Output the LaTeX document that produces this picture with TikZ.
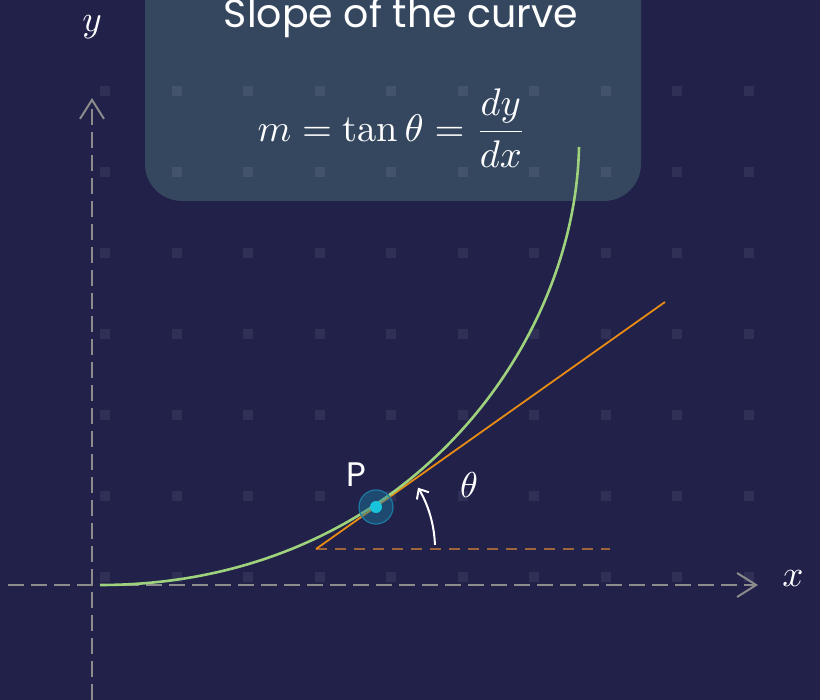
\documentclass[tikz,border=0pt]{standalone}
\usepackage{fontspec}
\newfontfamily\poppins{Poppins}
\usetikzlibrary{arrows.meta}
\definecolor{bgblue}{HTML}{21214A}
\definecolor{boxblue}{HTML}{34475F}
\definecolor{curvegreen}{HTML}{9ED27C}
\definecolor{tangorange}{HTML}{E88C14}
\definecolor{dashbrown}{HTML}{A0643C}
\definecolor{axisgray}{HTML}{8C8C8C}
\definecolor{pointcyan}{HTML}{19C3DC}
\definecolor{halocyan}{HTML}{1C7AA0}
\begin{document}
\begin{tikzpicture} [x=1pt, y=-1pt,
	axis/.style = {axisgray, line width=2pt, dash pattern=on 16pt off 7pt, -{Straight Barb[length=19pt, width=24pt]}},
	griddot/.style = {white, opacity=0.07},
	mathlabel/.style = {white},
	sanslabel/.style = {white, font=\poppins\fontsize{34}{40}\selectfont}]
	\clip (0,0) rectangle (820,700);
	\fill[bgblue] (0,0) rectangle (820,700);
	\fill[boxblue, rounded corners=37pt] (145,-60) rectangle (641,201);
	\foreach \i in {0,...,9} \foreach \j in {0,...,6}
		\fill[griddot] ({100+71.5*\i},{86+81*\j}) rectangle ++(10,10);
	% axes
	\coordinate (O) at (92,585);
	\draw [axis] (92,700) -- (92,98);
	\draw [axis] (8,585) -- (758,585);
	\node [mathlabel, scale=3.7] (ylabel) at (92,27) {$y$};
	\node [mathlabel, scale=3.7] (xlabel) at (793,579) {$x$};
	% slope box
	\node [sanslabel, font=\poppins\fontsize{39.5}{46}\selectfont, anchor=base] (title) at (401,28) {Slope of the curve};
	\node [mathlabel, scale=3.85] (slope) at (392,128) {$\displaystyle m = \tan\theta = \frac{dy}{dx}$};
	% curve, tangent at P
	\coordinate (P) at (376,507);
	\coordinate (T1) at (316,549);
	\coordinate (T2) at (665,302);
	\draw [dashbrown, line width=2pt, dash pattern=on 11pt off 8pt] (T1) -- (610,549);
	\draw [tangorange, line width=1.8pt] (T1) -- (T2);
	\draw [curvegreen, line width=2.6pt] (100,585) .. controls (400,585) and (575,350) .. (579,147);
	\fill [halocyan, opacity=0.45] (P) circle (17);
	\draw [halocyan, line width=1.2pt] (P) circle (17);
	\fill [pointcyan] (P) circle (6);
	\node [sanslabel, anchor=base] (plabel) at (356,487) {P};
	\draw [white, line width=2pt, -{Straight Barb[length=8pt, width=14pt]}] (T1) ++(-2:119) arc [start angle=-2, end angle=-31, radius=119];
	\node [mathlabel, scale=3.6] (thetalabel) at (469,485) {$\theta$};
\end{tikzpicture}
\end{document}
